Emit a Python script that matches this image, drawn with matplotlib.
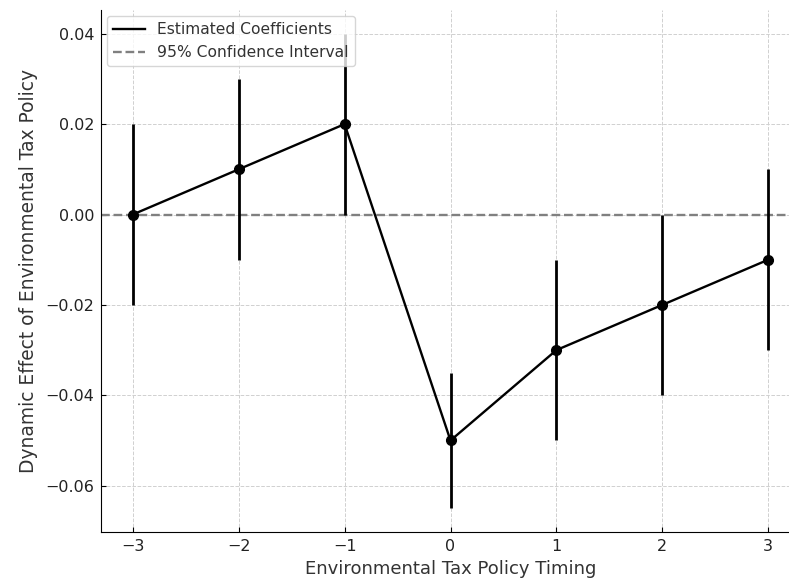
import matplotlib
matplotlib.use("Agg")
import matplotlib.pyplot as plt
from matplotlib.lines import Line2D

timing = [-3, -2, -1, 0, 1, 2, 3]
coefs = [0.0, 0.01, 0.02, -0.05, -0.03, -0.02, -0.01]
errors = [0.02, 0.02, 0.02, 0.015, 0.02, 0.02, 0.02]

DPI = 100
fig = plt.figure(figsize=(789 / DPI, 581 / DPI), dpi=DPI)
W, H = 789, 581
ax = fig.add_axes([101 / W, 1 - 532 / H, (800 - 101) / W, (532 - 10) / H])

ax.errorbar(timing, coefs, yerr=errors, fmt='-o', color='black', ecolor='black',
            elinewidth=2.0, linewidth=1.7, markersize=7, capsize=0, zorder=3)
ax.axhline(0, color='gray', linestyle='--', linewidth=1.7)

ax.set_xlabel('Environmental Tax Policy Timing', fontsize=13, color='#333333', labelpad=4)
ax.set_ylabel('Dynamic Effect of Environmental Tax Policy', fontsize=13.4, color='#333333', labelpad=5)
ax.grid(True, linestyle='--', color='#d0d0d0', linewidth=0.7)
ax.set_axisbelow(True)
for s in ['top', 'right']:
    ax.spines[s].set_visible(False)
ax.tick_params(direction='in', labelsize=11.5, labelcolor='#222222', pad=5)

handles = [Line2D([], [], color='black', linewidth=1.7),
           Line2D([], [], color='gray', linestyle='--', linewidth=1.7)]
ax.legend(handles, ['Estimated Coefficients', '95% Confidence Interval'],
          loc='upper left', fontsize=11.2, framealpha=0.8, borderaxespad=0.4,
          labelcolor='#333333')

fig.savefig('out.png', dpi=DPI)
